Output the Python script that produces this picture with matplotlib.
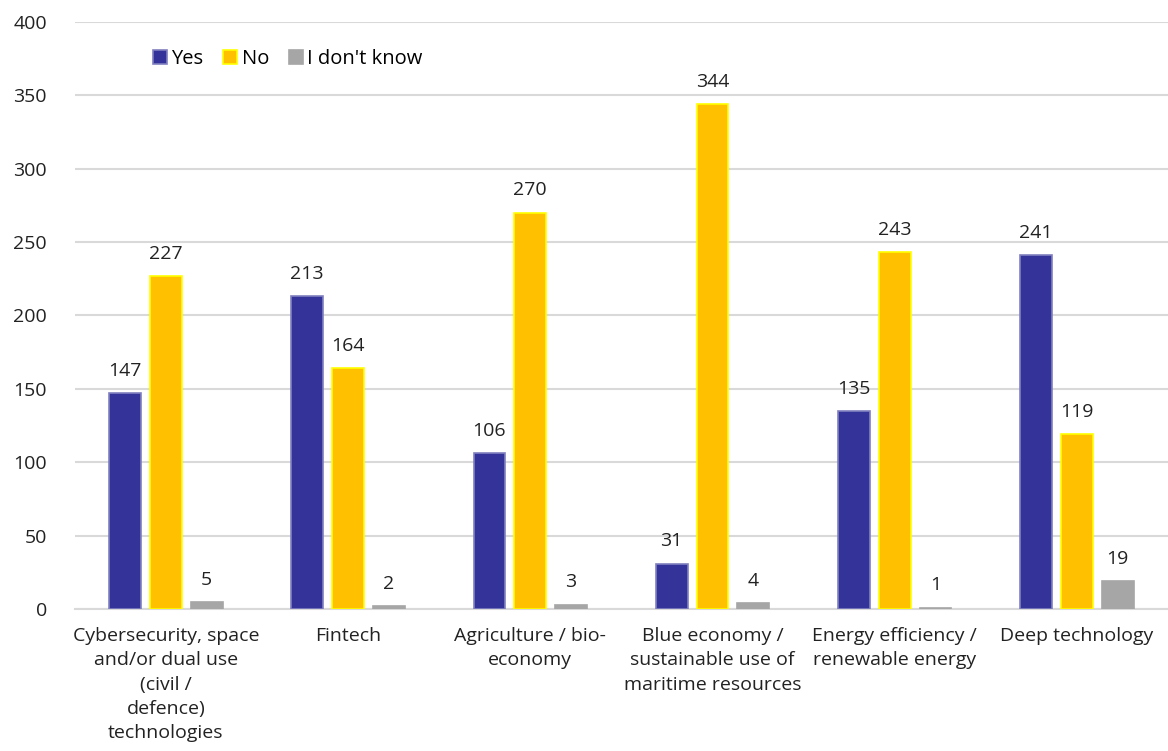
import matplotlib
matplotlib.use("Agg")
import matplotlib.pyplot as plt
import numpy as np

plt.rcParams['font.family'] = ['Open Sans', 'DejaVu Sans']

categories = ["Cybersecurity, space\nand/or dual use\n(civil /\ndefence)\ntechnologies",
              "Fintech",
              "Agriculture / bio-\neconomy",
              "Blue economy /\nsustainable use of\nmaritime resources",
              "Energy efficiency /\nrenewable energy",
              "Deep technology"]
yes = [147, 213, 106, 31, 135, 241]
no = [227, 164, 270, 344, 243, 119]
dont_know = [5, 2, 3, 4, 1, 19]

fig = plt.figure(figsize=(11.68, 7.51), dpi=100)
ax = fig.add_axes([0.064, 0.189, 0.936, 0.782])

x = np.arange(len(categories))
w = 0.175
step = 0.224
series = [(yes, "Yes", "#333399", "#8080c0"),
          (no, "No", "#FFC000", "#FFFF00"),
          (dont_know, "I don't know", "#A6A6A6", "#A6A6A6")]
for i, (vals, lab, col, edge) in enumerate(series):
    bars = ax.bar(x + (i - 1) * step, vals, w, color=col, edgecolor=edge,
                  linewidth=1.2, label=lab, zorder=3)
    for b, v in zip(bars, vals):
        ax.text(b.get_x() + b.get_width() / 2, v + 9, str(v), ha='center',
                va='bottom', fontsize=14, color='#222222')

ax.set_xlim(-0.5, len(categories) - 0.5)
ax.set_ylim(0, 400)
ax.set_yticks(range(0, 401, 50))
ax.yaxis.grid(True, color='#d9d9d9', linewidth=1.5, zorder=0)
ax.set_axisbelow(True)
for s in ['top', 'right', 'left']:
    ax.spines[s].set_visible(False)
ax.spines['bottom'].set_color('#d9d9d9')
ax.spines['bottom'].set_linewidth(1.5)
ax.tick_params(length=0, labelsize=14, colors='#222222')
ax.tick_params(axis='y', pad=20)
ax.set_xticks(x)
ax.set_xticklabels(categories, linespacing=1.45)
ax.tick_params(axis='x', pad=13)

ax.legend(loc='upper left', bbox_to_anchor=(0.055, 0.985), ncol=3, frameon=False,
          fontsize=14.5, handlelength=0.7, handleheight=0.7, handletextpad=0.2,
          columnspacing=1.0)

fig.savefig("out.png", dpi=100)
